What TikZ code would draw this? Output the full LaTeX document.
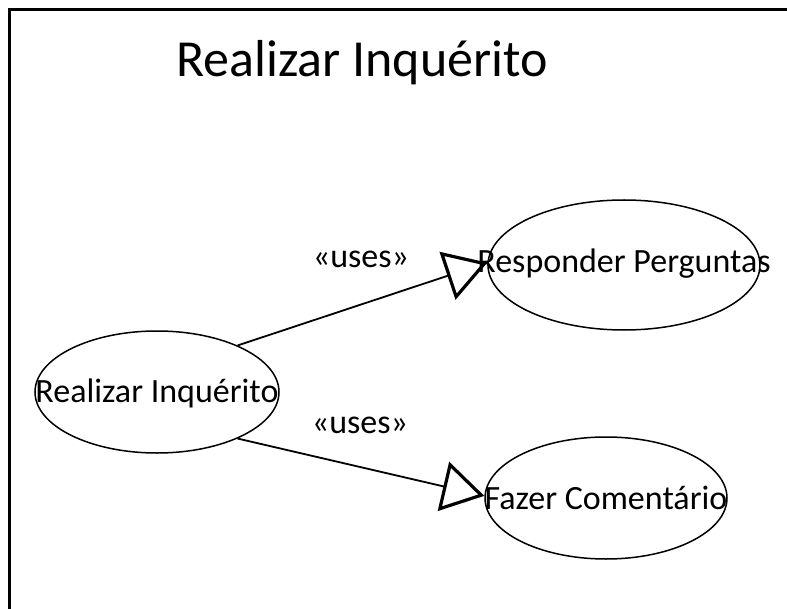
\documentclass[tikz,border=0pt]{standalone}
\usepackage{fontspec}
\setmainfont{Carlito}
\usetikzlibrary{shapes.geometric, arrows.meta, positioning}

\tikzset{
  usecase/.style={draw, ellipse, line width=0.75pt, inner sep=0pt},
  casetext/.style={font=\fontsize{17}{20}\selectfont, anchor=base, inner sep=0pt},
  usesline/.style={line width=0.9pt,
    -{Triangle[open, length=21pt, width=25pt, line width=1.6pt]}},
}

\begin{document}
\begin{tikzpicture}[x=0.5pt, y=-0.5pt]
    \useasboundingbox (0,0) rectangle (787,609);
    \clip (0,0) rectangle (787,609);
    % ---- moldura ----
    \draw[line width=1.5pt] (9,10) rectangle (820,640);
    \node[font=\fontsize{26}{30}\selectfont, anchor=base, inner sep=0pt] (titulo) at (362,77) {Realizar Inquérito};
    % ---- casos de uso ----
    \node[usecase, minimum width=122pt, minimum height=61pt] (inq) at (157,392) {};
    \node[usecase, minimum width=136pt, minimum height=65pt] (resp) at (624,265) {};
    \node[usecase, minimum width=121pt, minimum height=61pt] (coment) at (606,498) {};
    \node[casetext] (inqtxt) at ([yshift=-5pt]inq.center) {Realizar Inquérito};
    \node[casetext] (resptxt) at ([yshift=-4pt]resp.center) {Responder Perguntas};
    \node[casetext] (comenttxt) at ([yshift=-5.5pt]coment.center) {Fazer Comentário};
    % ---- relações ----
    \draw[usesline] (inq.30) -- (resp.179);
    \draw[usesline] (inq.-30) -- (coment.179);
    \node[casetext] (uses1) at (361,268) {«uses»};
    \node[casetext] (uses2) at (360,433) {«uses»};
\end{tikzpicture}
\end{document}
